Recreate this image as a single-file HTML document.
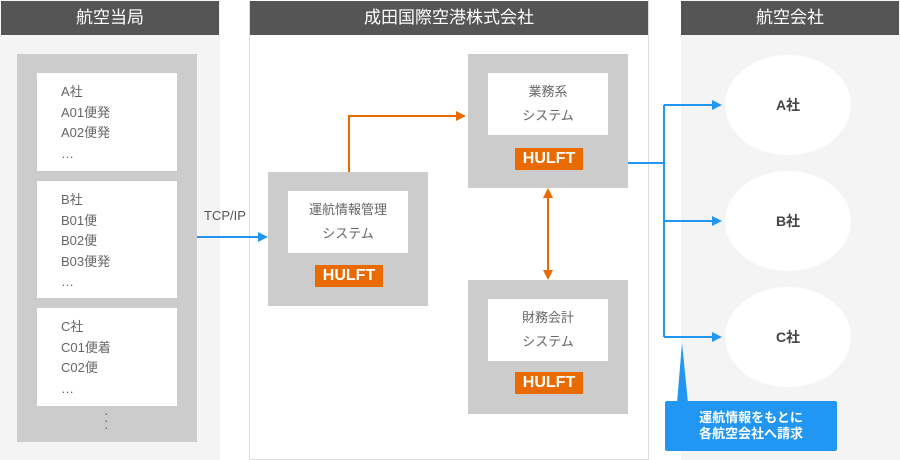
<!DOCTYPE html><html><head><meta charset="utf-8"><style>
body{margin:0;width:900px;height:460px;position:relative;overflow:hidden;background:#fff;font-family:"Liberation Sans","Noto Sans CJK JP",sans-serif}
.a{position:absolute;box-sizing:border-box}
.h{background:#555;color:#fff;font-size:17px;text-align:center;line-height:34px;top:1px;height:34px}
.g{background:#ccc}.w{background:#fff;color:#666;font-size:13px}
.c{text-align:center;line-height:24px;padding-top:7px}
.hf{background:#e86a00;color:#fff;font-weight:bold;font-size:16px;text-align:center;line-height:22px;width:68px;height:22px}
.l{padding:9px 0 0 24px;line-height:20.5px}
</style></head><body>
<div class="a" style="left:0;top:0;width:220px;height:460px;background:#f4f4f4"></div>
<div class="a h" style="left:1px;width:218px">航空当局</div>
<div class="a" style="left:249px;top:0;width:400px;height:460px;border:1px solid #ddd;border-top:none"></div>
<div class="a h" style="left:250px;width:398px">成田国際空港株式会社</div>
<div class="a" style="left:681px;top:0;width:219px;height:460px;background:#f4f4f4"></div>
<div class="a h" style="left:681px;width:218px">航空会社</div>
<div class="a g" style="left:17px;top:54px;width:180px;height:388px"></div>
<div class="a w l" style="left:37px;top:73px;width:140px;height:98px">A社<br>A01便発<br>A02便発<br>…</div>
<div class="a w l" style="left:37px;top:181px;width:140px;height:117px">B社<br>B01便<br>B02便<br>B03便発<br>…</div>
<div class="a w l" style="left:37px;top:308px;width:140px;height:98px">C社<br>C01便着<br>C02便<br>…</div>
<div class="a" style="left:104px;top:410px;color:#666;font-size:14px;line-height:7px">·<br>·<br>·</div>
<div class="a g" style="left:268px;top:172px;width:160px;height:134px"></div>
<div class="a w c" style="left:288px;top:191px;width:120px;height:62px">運航情報管理<br>システム</div>
<div class="a hf" style="left:315px;top:265px">HULFT</div>
<div class="a g" style="left:468px;top:54px;width:160px;height:134px"></div>
<div class="a w c" style="left:488px;top:73px;width:120px;height:62px">業務系<br>システム</div>
<div class="a hf" style="left:515px;top:148px">HULFT</div>
<div class="a g" style="left:468px;top:280px;width:160px;height:134px"></div>
<div class="a w c" style="left:488px;top:299px;width:120px;height:62px">財務会計<br>システム</div>
<div class="a hf" style="left:515px;top:372px">HULFT</div>
<div class="a" style="left:204px;top:208px;font-size:13px;color:#555">TCP/IP</div>
<svg class="a" style="left:0;top:0" width="900" height="460">
<g fill="#fff"><ellipse cx="788" cy="105" rx="63" ry="50"/><ellipse cx="788" cy="221" rx="63" ry="50"/><ellipse cx="788" cy="337" rx="63" ry="50"/></g>
<g stroke="#e86a00" stroke-width="2" fill="none"><path d="M349 172V116H458"/><path d="M548 198V270"/></g>
<g fill="#e86a00"><path d="M466 116l-10-5v10z"/><path d="M548 188l-5 10h10z"/><path d="M548 280l-5-10h10z"/></g>
<g stroke="#2196f3" stroke-width="2" fill="none"><path d="M197 237H260"/><path d="M628 163H664M664 105V337M664 105H714M664 221H714M664 337H714"/></g>
<g fill="#2196f3"><path d="M268 237l-10-5v10z"/><path d="M722 105l-10-5v10z"/><path d="M722 221l-10-5v10z"/><path d="M722 337l-10-5v10z"/><path d="M682 343l-5 60h11z"/></g>
<g font-weight="bold" font-size="14" fill="#444" text-anchor="middle"><text x="788" y="110">A社</text><text x="788" y="226">B社</text><text x="788" y="342">C社</text></g>
</svg>
<div class="a" style="left:665px;top:401px;width:172px;height:50px;background:#2196f3;border-radius:2px;color:#fff;font-weight:bold;font-size:13px;text-align:center;line-height:16px;padding-top:9px">運航情報をもとに<br>各航空会社へ請求</div>
</body></html>
